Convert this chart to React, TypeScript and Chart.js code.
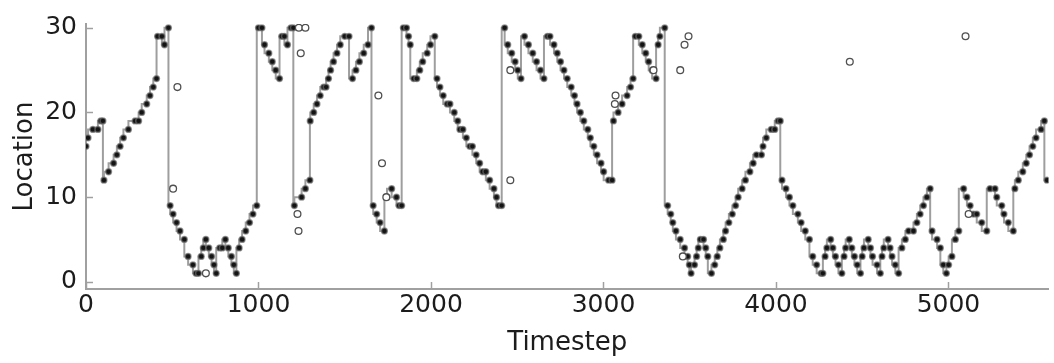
import React, { useEffect, useRef } from "react";
import { Chart, registerables } from "chart.js";

Chart.register(...registerables);

// Estimated location (dots) and true stepped path
const timesteps = [
  0, 12, 40, 69, 86, 98, 104, 131, 160, 179, 198, 217, 246, 285, 305, 323, 352, 371, 390, 409,
  415, 440, 455, 478, 488, 505, 525, 545, 570, 592, 620, 638, 652, 668, 680, 695, 712, 728, 742, 755,
  775, 790, 808, 825, 843, 857, 872, 888, 905, 926, 948, 968, 990,
  1000, 1020, 1035, 1060, 1080, 1100, 1122, 1135, 1150, 1168, 1188, 1202, 1208, 1250, 1272, 1298,
  1300, 1320, 1339, 1358, 1378, 1392, 1406, 1418, 1435, 1455, 1474, 1500, 1525, 1545, 1565, 1585,
  1610, 1635, 1655, 1665, 1685, 1705, 1730, 1745, 1772, 1800, 1815, 1830,
  1840, 1858, 1870, 1880, 1900, 1918, 1935, 1952, 1978, 1997, 2022, 2035, 2052, 2071, 2094, 2110,
  2135, 2155, 2168, 2185, 2205, 2225, 2240, 2262, 2282, 2300, 2318, 2340, 2365, 2380, 2392, 2410,
  2427, 2445, 2468, 2488, 2503, 2522, 2542, 2565, 2590, 2612, 2635, 2655, 2675, 2690, 2713, 2732,
  2751, 2771, 2790, 2813, 2832, 2847, 2866, 2886, 2909, 2924, 2944, 2963, 2986, 3001, 3030, 3050,
  3058, 3085, 3108, 3137, 3157, 3172, 3185, 3205, 3225, 3245, 3262, 3282, 3305, 3317, 3327, 3355,
  3372, 3390, 3402, 3420, 3445, 3470, 3488, 3498, 3508, 3528, 3540, 3550, 3562, 3580, 3593, 3605,
  3626, 3645, 3660, 3675, 3695, 3708, 3727, 3747, 3766, 3781, 3804, 3823, 3849, 3868, 3887, 3916,
  3925, 3944, 3973, 3993, 4012, 4025,
  4035, 4058, 4078, 4098, 4127, 4146, 4170, 4194, 4213, 4236, 4262, 4272, 4285, 4295, 4317, 4330,
  4345, 4362, 4382, 4395, 4404, 4425, 4440, 4455, 4471, 4490, 4500, 4510, 4535, 4548, 4560, 4586,
  4605, 4615, 4625, 4650, 4662, 4673, 4692, 4711, 4730, 4750, 4769, 4797, 4817, 4836, 4855, 4875,
  4894, 4905, 4934, 4953, 4970, 4988, 5001, 5020, 5040, 5060, 5088, 5107, 5126, 5145, 5164, 5193,
  5222, 5241, 5270, 5280, 5309, 5322, 5347, 5376, 5385, 5405, 5431, 5451, 5470, 5489, 5508, 5537,
  5556, 5572,
];
const locations = [
  16, 17, 18, 18, 19, 19, 12, 13, 14, 15, 16, 17, 18, 19, 19, 20, 21, 22, 23, 24,
  29, 29, 28, 30, 9, 8, 7, 6, 5, 3, 2, 1, 1, 3, 4, 5, 4, 3, 2, 1,
  4, 4, 5, 4, 3, 2, 1, 4, 5, 6, 7, 8, 9,
  30, 30, 28, 27, 26, 25, 24, 29, 29, 28, 30, 30, 9, 10, 11, 12,
  19, 20, 21, 22, 23, 23, 24, 25, 26, 27, 28, 29, 29, 24, 25, 26,
  27, 28, 30, 9, 8, 7, 6, 10, 11, 10, 9, 9,
  30, 30, 29, 28, 24, 24, 25, 26, 27, 28, 29, 24, 23, 22, 21, 21,
  20, 19, 18, 18, 17, 16, 16, 15, 14, 13, 13, 12, 11, 10, 9, 9,
  30, 28, 27, 26, 25, 24, 29, 28, 27, 26, 25, 24, 29, 29, 28, 27,
  26, 25, 24, 23, 22, 21, 20, 19, 18, 17, 16, 15, 14, 13, 12, 12,
  19, 20, 21, 22, 23, 24, 29, 29, 28, 27, 26, 25, 24, 28, 29, 30,
  9, 8, 7, 6, 5, 4, 3, 2, 1, 2, 3, 4, 5, 5, 4, 3,
  1, 2, 3, 4, 5, 6, 7, 8, 9, 10, 11, 12, 13, 14, 15, 15,
  16, 17, 18, 18, 19, 19,
  12, 11, 10, 9, 8, 7, 6, 5, 3, 2, 1, 1, 3, 4, 5, 4,
  3, 2, 1, 3, 4, 5, 4, 3, 2, 1, 3, 4, 5, 4, 3, 2,
  1, 3, 4, 5, 4, 3, 2, 1, 4, 5, 6, 6, 7, 8, 9, 10,
  11, 6, 5, 4, 2, 1, 2, 3, 5, 6, 11, 10, 9, 8, 8, 7,
  6, 11, 11, 10, 9, 8, 7, 6, 11, 12, 13, 14, 15, 16, 17, 18,
  19, 12,
];

// Outlying observations (open circles)
const obsTimesteps = [505, 530, 695, 1226, 1232, 1234, 1245, 1272, 1695, 1716, 1741, 2460, 2460, 3066, 3070, 3290, 3445, 3460, 3470, 3493, 4428, 5099, 5117];
const obsLocations = [11, 23, 1, 8, 6, 30, 27, 30, 22, 14, 10, 25, 12, 21, 22, 25, 25, 3, 28, 29, 26, 29, 8];

const xTickValues = [0, 1000, 2000, 3000, 4000, 5000];
const yTickValues = [0, 10, 20, 30];
const xMin = 0;
const xMax = 5580;
const yMin = -0.85;
const yMax = 30.45;

const FONT = "'DejaVu Sans', 'Liberation Sans', sans-serif";
const AXIS_COLOR = "#a0a0a0";
const TEXT_COLOR = "#1c1c1c";

export default function App() {
  const ref = useRef<HTMLCanvasElement>(null);

  useEffect(() => {
    if (!ref.current) return;
    const pathData = timesteps.map((t, i) => ({ x: t, y: locations[i] }));
    const obsData = obsTimesteps.map((t, i) => ({ x: t, y: obsLocations[i] }));

    const inwardTicks = {
      id: "inwardTicks",
      afterDatasetsDraw(chart: any) {
        const { ctx, chartArea, scales } = chart;
        ctx.save();
        ctx.strokeStyle = AXIS_COLOR;
        ctx.lineWidth = 1.5;
        xTickValues.forEach((v) => {
          const px = Math.round(scales.x.getPixelForValue(v)) + 0.5;
          ctx.beginPath();
          ctx.moveTo(px, chartArea.bottom);
          ctx.lineTo(px, chartArea.bottom - 7);
          ctx.stroke();
        });
        yTickValues.forEach((v) => {
          const py = Math.round(scales.y.getPixelForValue(v)) + 0.5;
          ctx.beginPath();
          ctx.moveTo(chartArea.left, py);
          ctx.lineTo(chartArea.left + 7, py);
          ctx.stroke();
        });
        ctx.restore();
      },
    };

    const chart = new Chart(ref.current, {
      type: "scatter",
      data: {
        datasets: [
          {
            label: "observations",
            data: obsData,
            pointRadius: 3.4,
            pointBackgroundColor: "#ffffff",
            pointBorderColor: "#505050",
            pointBorderWidth: 1.3,
            showLine: false,
            order: 0,
          },
          {
            label: "estimate",
            data: pathData,
            pointRadius: 2.9,
            pointBackgroundColor: "#141414",
            pointBorderColor: "rgba(110,110,110,0.65)",
            pointBorderWidth: 1.5,
            showLine: false,
            order: 1,
          },
          {
            label: "true",
            data: pathData,
            showLine: true,
            stepped: "after",
            borderColor: "#9e9e9e",
            borderWidth: 2,
            pointRadius: 0,
            fill: false,
            order: 2,
          } as any,
        ],
      },
      options: {
        responsive: false,
        animation: false,
        devicePixelRatio: 1,
        layout: { padding: { top: 12, right: 0, bottom: 0, left: 0 } },
        plugins: {
          legend: { display: false },
          tooltip: { enabled: false },
        },
        scales: {
          x: {
            type: "linear",
            min: xMin,
            max: xMax,
            afterBuildTicks: (scale: any) => {
              scale.ticks = xTickValues.map((v) => ({ value: v }));
            },
            afterFit: (scale: any) => {
              scale.height = 74;
            },
            grid: { drawOnChartArea: false, drawTicks: false },
            border: { display: true, color: AXIS_COLOR, width: 2 },
            ticks: {
              padding: 1,
              color: TEXT_COLOR,
              font: { family: FONT, size: 25 },
              maxRotation: 0,
              callback: (v: any) => String(v),
            },
            title: {
              display: true,
              text: "Timestep",
              color: TEXT_COLOR,
              font: { family: FONT, size: 26 },
              padding: { top: 0, bottom: 4 },
            },
          },
          y: {
            type: "linear",
            min: yMin,
            max: yMax,
            afterBuildTicks: (scale: any) => {
              scale.ticks = yTickValues.map((v) => ({ value: v }));
            },
            afterFit: (scale: any) => {
              scale.width = 86;
            },
            grid: { drawOnChartArea: false, drawTicks: false },
            border: { display: true, color: AXIS_COLOR, width: 2 },
            ticks: {
              padding: 9,
              color: TEXT_COLOR,
              font: { family: FONT, size: 25 },
              callback: (v: any) => String(v),
            },
            title: {
              display: true,
              text: "Location",
              color: TEXT_COLOR,
              font: { family: FONT, size: 26 },
              padding: { top: 10, bottom: 0 },
            },
          },
        },
      },
      plugins: [inwardTicks],
    });

    return () => chart.destroy();
  }, []);

  return (
    <div style={{ position: "fixed", left: 0, top: 0, width: 1054, height: 363, background: "#ffffff" }}>
      <canvas ref={ref} width={1054} height={363} style={{ display: "block", width: 1054, height: 363 }} />
    </div>
  );
}
